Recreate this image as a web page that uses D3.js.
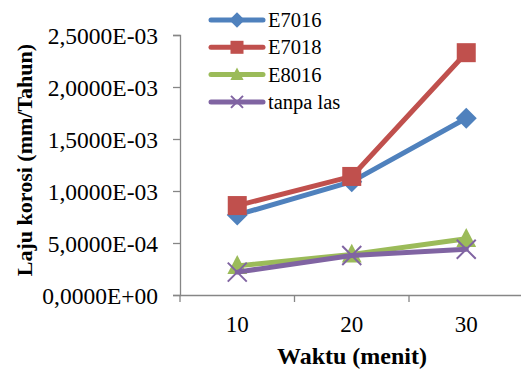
<!DOCTYPE html>
<html><head><meta charset="utf-8">
<script src="https://cdn.jsdelivr.net/npm/d3@7"></script>
<style>body{margin:0;background:#fff}svg{display:block}</style>
</head><body><svg id="c" width="521" height="370" font-family="Liberation Serif"></svg>
<script>
const categories = ["10","20","30"];
const seriesNames = ["E7016","E7018","E8016","tanpa las"];
const e7016 = [0.00077, 0.00109, 0.00170];
const e7018 = [0.00086, 0.00114, 0.00233];
const e8016 = [0.00028, 0.00039, 0.00054];
const tanpaLas = [0.00022, 0.00038, 0.00044];
const yTicks = [0, 0.0005, 0.001, 0.0015, 0.002, 0.0025];
const yTickLabels = ["0,0000E+00","5,0000E-04","1,0000E-03","1,5000E-03","2,0000E-03","2,5000E-03"];
const colors = ["#4F81BD","#C0504D","#9BBB59","#8064A2"];
const markers = ["diamond","square","triangle","x"];
const values = [e7016, e7018, e8016, tanpaLas];

const FONT = "Liberation Serif";
const svg = d3.select("#c");
const x0 = 180, x1 = 523.5, yTop = 35, yBot = 295;
const x = d3.scaleBand().domain(categories).range([x0, x1]);
const y = d3.scaleLinear().domain([0, 0.0025]).range([yBot, yTop]);
const axisColor = "#868686";

// y axis
const ya = svg.append("g").attr("transform", `translate(${x0},0)`)
  .call(d3.axisLeft(y).tickValues(yTicks).tickSize(7).tickFormat((d,i)=>yTickLabels[i]));
ya.attr("font-family", FONT);
ya.select(".domain").attr("stroke", axisColor).attr("stroke-width",1.3);
ya.selectAll(".tick line").attr("stroke", axisColor).attr("stroke-width",1.3);
ya.selectAll(".tick text").attr("font-family", FONT).attr("font-size", 23.5).attr("fill","#000").attr("x",-22).attr("dy","0.34em");

// x axis
const xa = svg.append("g").attr("transform", `translate(0,${yBot})`)
  .call(d3.axisBottom(x).tickSize(0).tickSizeOuter(0));
xa.attr("font-family", FONT);
xa.select(".domain").attr("stroke", axisColor).attr("stroke-width",1.3);
xa.selectAll(".tick text").attr("font-family", FONT).attr("font-size", 23).attr("fill","#000").attr("dy", 0).attr("y", 37);
const bounds = [x0, x0 + x.step(), x0 + 2*x.step(), x0 + 3*x.step()];
svg.append("g").selectAll("line").data(bounds).join("line")
  .attr("x1", d=>d).attr("x2", d=>d).attr("y1", yBot).attr("y2", yBot+7)
  .attr("stroke", axisColor).attr("stroke-width",1.3);

function drawMarker(g, type, color, cx, cy, s) {
  if (type === "diamond") {
    g.append("path").attr("d", `M${cx},${cy-s*0.7}L${cx+s*0.7},${cy}L${cx},${cy+s*0.7}L${cx-s*0.7},${cy}Z`).attr("fill", color);
  } else if (type === "square") {
    g.append("rect").attr("x", cx-s/2).attr("y", cy-s/2).attr("width", s).attr("height", s).attr("fill", color);
  } else if (type === "triangle") {
    g.append("path").attr("d", `M${cx},${cy-s*0.6}L${cx+s*0.55},${cy+s*0.45}L${cx-s*0.55},${cy+s*0.45}Z`).attr("fill", color);
  } else {
    g.append("path").attr("d", `M${cx-s/2},${cy-s/2}L${cx+s/2},${cy+s/2}M${cx+s/2},${cy-s/2}L${cx-s/2},${cy+s/2}`).attr("stroke", color).attr("stroke-width", 2);
  }
}

const line = d3.line().x((d,i)=>x(categories[i]) + x.bandwidth()/2).y(d=>y(d));
const markerSize = [15, 19, 18, 19];
values.forEach((vals, si) => {
  const g = svg.append("g");
  g.append("path").attr("d", line(vals)).attr("fill","none").attr("stroke", colors[si]).attr("stroke-width", 5).attr("stroke-linejoin","round").attr("stroke-linecap","round");
  vals.forEach((v,i)=> drawMarker(g, markers[si], colors[si], x(categories[i]) + x.bandwidth()/2, y(v), markerSize[si]));
});

// legend
const lg = svg.append("g");
seriesNames.forEach((n, i) => {
  const ly = 20 + i*27.3;
  lg.append("line").attr("x1", 211).attr("x2", 263).attr("y1", ly).attr("y2", ly).attr("stroke", colors[i]).attr("stroke-width", 5).attr("stroke-linecap","round");
  drawMarker(lg, markers[i], colors[i], 237, ly, [11,13,12,12][i]);
  lg.append("text").attr("x", 268).attr("y", ly + 7).attr("font-family", FONT).attr("font-size", 20.5).text(n);
});

// axis titles
svg.append("text").attr("transform", "translate(32,160) rotate(-90)").attr("text-anchor","middle")
  .attr("font-family", FONT).attr("font-weight","bold").attr("font-size", 22).text("Laju korosi (mm/Tahun)");
svg.append("text").attr("x", 352).attr("y", 364).attr("text-anchor","middle")
  .attr("font-family", FONT).attr("font-weight","bold").attr("font-size", 24).text("Waktu (menit)");
</script></body></html>
